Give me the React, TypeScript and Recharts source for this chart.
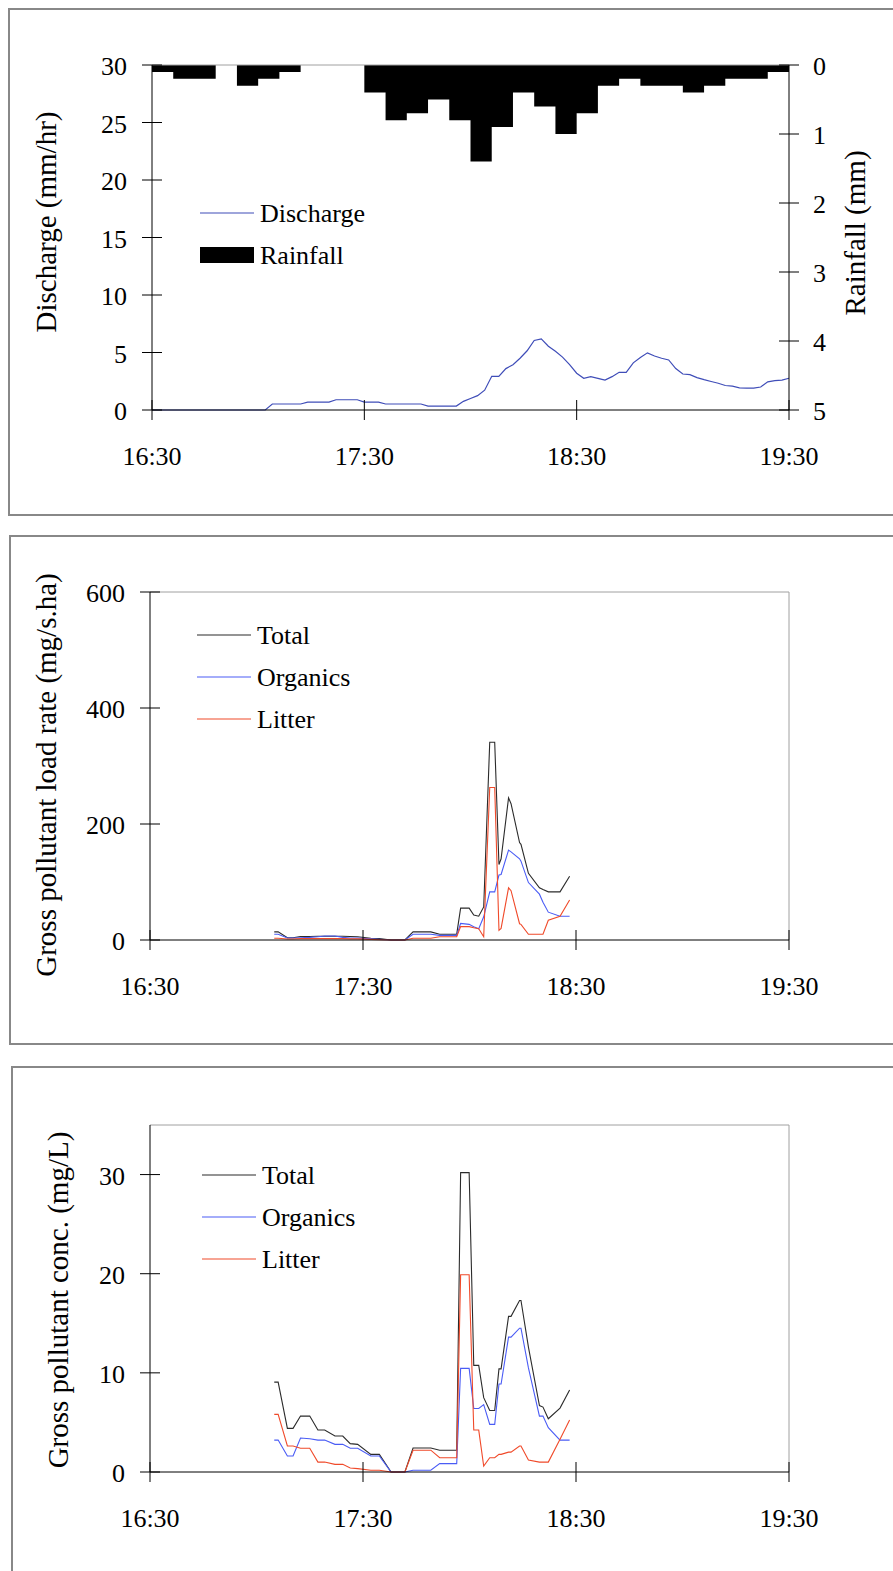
import {
  Area,
  ComposedChart,
  Legend,
  Line,
  ReferenceLine,
  XAxis,
  YAxis,
} from "recharts";

const FONT = "'Liberation Serif', 'Times New Roman', serif";
const AXIS = "#000";
const FRAME = "#a0a0a0";
const DISCHARGE_COLOR = "#3f4db8";
const TOTAL_COLOR = "#2b2b2b";
const ORGANICS_COLOR = "#4a5cf5";
const LITTER_COLOR = "#f04a2a";

// x values are minutes after 16:30
const timeTicks = [0, 60, 120, 180];
const timeLabels = ["16:30", "17:30", "18:30", "19:30"];

const dischargeTicks = [0, 5, 10, 15, 20, 25, 30];
const rainTicks = [0, 1, 2, 3, 4, 5];
const loadTicks = [0, 200, 400, 600];
const concTicks = [0, 10, 20, 30];

const dischargeTimes = [
  0, 2, 4, 6, 8, 10, 12, 14, 16, 18, 20, 22, 24, 26, 28, 30, 32, 34, 36, 38,
  40, 42, 44, 46, 48, 50, 52, 54, 56, 58, 60, 62, 64, 66, 68, 70, 72, 74, 76,
  78, 80, 82, 84, 86, 88, 90, 92, 94, 96, 98, 100, 102, 104, 106, 108, 110,
  112, 114, 116, 118, 120, 122, 124, 126, 128, 130, 132, 134, 136, 138, 140,
  142, 144, 146, 148, 150, 152, 154, 156, 158, 160, 162, 164, 166, 168, 170,
  172, 174, 176, 178, 180,
];
const discharge = [
  0, 0, 0, 0, 0, 0, 0, 0, 0, 0, 0, 0, 0, 0, 0, 0, 0,
  0.52, 0.52, 0.52, 0.52, 0.52,
  0.69, 0.69, 0.69, 0.69,
  0.89, 0.89, 0.89, 0.89,
  0.69, 0.69, 0.69,
  0.52, 0.52, 0.52, 0.52, 0.52, 0.52,
  0.34, 0.34, 0.34, 0.34, 0.34,
  0.75, 1.0, 1.25, 1.72, 2.93, 2.93, 3.6, 3.94, 4.5, 5.15,
  6.05, 6.18, 5.55, 5.1, 4.6, 3.95, 3.2, 2.76, 2.9, 2.75,
  2.6, 2.9, 3.28, 3.28, 4.1, 4.57, 4.97, 4.7, 4.5, 4.35,
  3.6, 3.13, 3.07, 2.82, 2.64, 2.48, 2.33, 2.13, 2.07, 1.93,
  1.9, 1.9, 2.0, 2.45, 2.56, 2.6, 2.76,
];

// 6-minute rainfall depths, last entry closes the final step
const rainTimes = [
  0, 6, 12, 18, 24, 30, 36, 42, 48, 54, 60, 66, 72, 78, 84, 90, 96, 102, 108,
  114, 120, 126, 132, 138, 144, 150, 156, 162, 168, 174, 180,
];
const rainfall = [
  0.1, 0.2, 0.2, 0, 0.3, 0.2, 0.1, 0, 0, 0, 0.4, 0.8, 0.7, 0.5, 0.8, 1.4, 0.9,
  0.4, 0.6, 1.0, 0.7, 0.3, 0.2, 0.3, 0.3, 0.4, 0.3, 0.2, 0.2, 0.1, 0.1,
];

const sampleTimes = [
  35, 36.1, 38.7, 40.3, 42.4, 45, 47.3, 49.2, 52.1, 54.3,
  56.4, 58.5, 62.2, 64.6, 67.9, 71.8, 74.1, 79.1, 81.6, 86.4,
  87.5, 89.9, 91.2, 92.6, 94, 95.7, 97.1, 98.3, 98.9, 101,
  101.7, 104.1, 104.5, 106.6, 109.7, 110.7, 112.2, 115.5, 118.2,
];
const loadTotal = [
  14, 14, 4, 4, 6, 6, 6.5, 6.5, 6.5, 6.5,
  6, 5.5, 3, 2.5, 0, 0, 14, 14, 10, 10,
  55, 55, 43, 41, 57, 341, 341, 130, 140, 245,
  235, 168, 165, 115, 90, 87, 83, 83, 110,
];
const loadOrganics = [
  10, 10, 3.4, 3.4, 4, 4.5, 5.5, 6.9, 6.9, 4.5,
  3.5, 3.4, 2, 1, 0, 0, 9.8, 9.8, 8, 8,
  28.7, 27, 23, 19.5, 40, 83, 83, 112, 113, 155,
  152, 140, 136, 99, 79, 65, 48, 41, 41,
];
const loadLitter = [
  3, 3, 1.7, 1.7, 2.3, 2.3, 2.3, 2.3, 2.3, 2.3,
  2, 2, 1, 0.5, 0, 0, 2.9, 2.9, 5.7, 5.7,
  23, 23, 21, 19.5, 5.7, 263, 263, 16.7, 20, 90,
  85, 28, 27, 9.8, 9.8, 9.8, 34, 41, 69,
];
const concTotal = [
  9.07, 9.07, 4.4, 4.4, 5.64, 5.64, 4.23, 4.23, 3.63, 3.63,
  2.86, 2.79, 1.78, 1.78, 0, 0, 2.42, 2.42, 2.2, 2.2,
  30.2, 30.2, 10.75, 10.75, 7.5, 6.2, 6.2, 10.4, 10.4, 15.7,
  15.7, 17.3, 17.3, 12.6, 6.7, 6.55, 5.37, 6.45, 8.26,
];
const concOrganics = [
  3.22, 3.22, 1.61, 1.61, 3.43, 3.36, 3.22, 3.22, 2.79, 2.79,
  2.39, 2.39, 1.61, 1.61, 0, 0, 0.17, 0.17, 0.84, 0.84,
  10.45, 10.45, 6.4, 6.4, 6.8, 4.8, 4.8, 8.87, 8.87, 13.6,
  13.6, 14.5, 14.5, 10.5, 5.64, 5.64, 4.47, 3.22, 3.22,
];
const concLitter = [
  5.81, 5.81, 2.62, 2.62, 2.39, 2.39, 1.0, 1.0, 0.77, 0.77,
  0.4, 0.34, 0.17, 0.17, 0, 0, 2.2, 2.2, 1.44, 1.44,
  19.9, 19.9, 4.23, 4.23, 0.6, 1.44, 1.44, 1.78, 1.78, 2.0,
  2.0, 2.62, 2.62, 1.2, 1.0, 1.0, 1.0, 3.3, 5.24,
];

const dischargeData = dischargeTimes.map((t, i) => ({ t, q: discharge[i] }));
const rainData = rainTimes.map((t, i) => ({ t, rain: rainfall[i] }));
const loadData = sampleTimes.map((t, i) => ({
  t,
  total: loadTotal[i],
  organics: loadOrganics[i],
  litter: loadLitter[i],
}));
const concData = sampleTimes.map((t, i) => ({
  t,
  total: concTotal[i],
  organics: concOrganics[i],
  litter: concLitter[i],
}));

const TimeTick = ({ x, y, payload }: any) => (
  <g>
    <line x1={x} x2={x} y1={y - 10} y2={y + 10} stroke={AXIS} />
    <text x={x} y={y + 55} textAnchor="middle" fontFamily={FONT} fontSize={26} fill="#000">
      {timeLabels[timeTicks.indexOf(payload.value)]}
    </text>
  </g>
);

const LeftTick = ({ x, y, payload }: any) => (
  <g>
    <line x1={x - 10} x2={x + 10} y1={y} y2={y} stroke={AXIS} />
    <text x={x - 25} y={y + 10} textAnchor="end" fontFamily={FONT} fontSize={26} fill="#000">
      {payload.value}
    </text>
  </g>
);

const RightTick = ({ x, y, payload }: any) => (
  <g>
    <line x1={x - 10} x2={x + 10} y1={y} y2={y} stroke={AXIS} />
    <text x={x + 24} y={y + 10} textAnchor="start" fontFamily={FONT} fontSize={26} fill="#000">
      {payload.value}
    </text>
  </g>
);

const AxisTitle = ({ cx, cy, text }: any) => (
  <text
    x={cx}
    y={cy}
    dy={7}
    transform={`rotate(-90 ${cx} ${cy})`}
    textAnchor="middle"
    fontFamily={FONT}
    fontSize={29}
    fill="#000"
  >
    {text}
  </text>
);

const legendText = { fontFamily: FONT, fontSize: 26, fill: "#000" };

const HydroLegend = () => (
  <svg width={420} height={300} style={{ display: "block" }}>
    <line x1={200} x2={254} y1={213} y2={213} stroke={DISCHARGE_COLOR} strokeWidth={1.2} />
    <text x={260} y={222} {...legendText}>Discharge</text>
    <rect x={200} y={247} width={54} height={16} fill="#000" />
    <text x={260} y={264} {...legendText}>Rainfall</text>
  </svg>
);

const pollutantSeries = [
  { name: "Total", color: TOTAL_COLOR },
  { name: "Organics", color: ORGANICS_COLOR },
  { name: "Litter", color: LITTER_COLOR },
];

const PollutantLegend = ({ x0, y0 }: { x0: number; y0: number }) => (
  <svg width={420} height={260} style={{ display: "block" }}>
    {pollutantSeries.map((s, i) => (
      <g key={s.name}>
        <line x1={x0} x2={x0 + 54} y1={y0 + i * 42} y2={y0 + i * 42} stroke={s.color} strokeWidth={1.2} />
        <text x={x0 + 60} y={y0 + i * 42 + 9} {...legendText}>
          {s.name}
        </text>
      </g>
    ))}
  </svg>
);

const legendWrap = { left: 0, top: 0, width: 420, height: 300, pointerEvents: "none" as const };

const HydroChart = () => (
  <ComposedChart width={893} height={520} margin={{ top: 65, right: 0, bottom: 50, left: 0 }}>
    <XAxis
      dataKey="t"
      type="number"
      domain={[0, 180]}
      ticks={timeTicks}
      interval={0}
      height={60}
      tickSize={0}
      tickMargin={0}
      tickLine={false}
      axisLine={{ stroke: AXIS }}
      tick={<TimeTick />}
    />
    <YAxis
      yAxisId="q"
      domain={[0, 30]}
      ticks={dischargeTicks}
      interval={0}
      width={152}
      tickSize={0}
      tickMargin={0}
      tickLine={false}
      axisLine={{ stroke: AXIS }}
      tick={<LeftTick />}
      label={<AxisTitle cx={49} cy={222} text="Discharge (mm/hr)" />}
    />
    <YAxis
      yAxisId="rain"
      orientation="right"
      reversed
      domain={[0, 5]}
      ticks={rainTicks}
      interval={0}
      width={104}
      tickSize={0}
      tickMargin={0}
      tickLine={false}
      axisLine={{ stroke: AXIS }}
      tick={<RightTick />}
      label={<AxisTitle cx={858} cy={233} text="Rainfall (mm)" />}
    />
    <Area
      yAxisId="rain"
      data={rainData}
      dataKey="rain"
      type="stepAfter"
      baseValue={0}
      stroke="none"
      fill="#000"
      fillOpacity={1}
      dot={false}
      activeDot={false}
      isAnimationActive={false}
    />
    <ReferenceLine yAxisId="q" y={30} stroke={FRAME} />
    <Line
      yAxisId="q"
      data={dischargeData}
      dataKey="q"
      type="linear"
      stroke={DISCHARGE_COLOR}
      strokeWidth={1.2}
      dot={false}
      activeDot={false}
      isAnimationActive={false}
    />
    <Legend
      layout="vertical"
      align="center"
      verticalAlign="middle"
      wrapperStyle={legendWrap}
      content={() => <HydroLegend />}
    />
  </ComposedChart>
);

interface PollutantChartProps {
  data: { t: number; total: number; organics: number; litter: number }[];
  height: number;
  top: number;
  bottom: number;
  max: number;
  ticks: number[];
  title: string;
  titleX: number;
  titleY: number;
  legendX: number;
  legendY: number;
}

const PollutantChart = ({
  data,
  height,
  top,
  bottom,
  max,
  ticks,
  title,
  titleX,
  titleY,
  legendX,
  legendY,
}: PollutantChartProps) => (
  <ComposedChart width={893} height={height} data={data} margin={{ top, right: 104, bottom, left: 0 }}>
    <XAxis
      dataKey="t"
      type="number"
      domain={[0, 180]}
      ticks={timeTicks}
      interval={0}
      height={60}
      tickSize={0}
      tickMargin={0}
      tickLine={false}
      axisLine={{ stroke: AXIS }}
      tick={<TimeTick />}
    />
    <YAxis
      domain={[0, max]}
      ticks={ticks}
      interval={0}
      width={150}
      tickSize={0}
      tickMargin={0}
      tickLine={false}
      axisLine={{ stroke: AXIS }}
      tick={<LeftTick />}
      label={<AxisTitle cx={titleX} cy={titleY} text={title} />}
    />
    <ReferenceLine y={max} stroke={FRAME} />
    <ReferenceLine x={180} stroke={FRAME} />
    <Line dataKey="total" type="linear" stroke={TOTAL_COLOR} strokeWidth={1.1} dot={false} activeDot={false} isAnimationActive={false} />
    <Line dataKey="organics" type="linear" stroke={ORGANICS_COLOR} strokeWidth={1.1} dot={false} activeDot={false} isAnimationActive={false} />
    <Line dataKey="litter" type="linear" stroke={LITTER_COLOR} strokeWidth={1.1} dot={false} activeDot={false} isAnimationActive={false} />
    <Legend
      layout="vertical"
      align="center"
      verticalAlign="middle"
      wrapperStyle={legendWrap}
      content={() => <PollutantLegend x0={legendX} y0={legendY} />}
    />
  </ComposedChart>
);

const panelBorder = "2px solid #888";

export default function App() {
  return (
    <div
      style={{
        position: "fixed",
        left: 0,
        top: 0,
        width: 893,
        height: 1571,
        overflow: "hidden",
        background: "#fff",
      }}
    >
      <div
        style={{
          position: "absolute",
          boxSizing: "border-box",
          left: 8,
          top: 8,
          width: 900,
          height: 508,
          borderTop: panelBorder,
          borderLeft: panelBorder,
          borderBottom: panelBorder,
        }}
      />
      <div
        style={{
          position: "absolute",
          boxSizing: "border-box",
          left: 9,
          top: 535,
          width: 900,
          height: 510,
          borderTop: panelBorder,
          borderLeft: panelBorder,
          borderBottom: panelBorder,
        }}
      />
      <div
        style={{
          position: "absolute",
          boxSizing: "border-box",
          left: 11,
          top: 1066,
          width: 900,
          height: 600,
          borderTop: panelBorder,
          borderLeft: panelBorder,
        }}
      />
      <div style={{ position: "absolute", left: 0, top: 0 }}>
        <HydroChart />
      </div>
      <div style={{ position: "absolute", left: 0, top: 530 }}>
        <PollutantChart
          data={loadData}
          height={520}
          top={62}
          bottom={50}
          max={600}
          ticks={loadTicks}
          title="Gross pollutant load rate (mg/s.ha)"
          titleX={49}
          titleY={245}
          legendX={197}
          legendY={105}
        />
      </div>
      <div style={{ position: "absolute", left: 0, top: 1060 }}>
        <PollutantChart
          data={concData}
          height={500}
          top={65}
          bottom={28}
          max={35}
          ticks={concTicks}
          title="Gross pollutant conc. (mg/L)"
          titleX={61}
          titleY={240}
          legendX={202}
          legendY={115}
        />
      </div>
    </div>
  );
}
